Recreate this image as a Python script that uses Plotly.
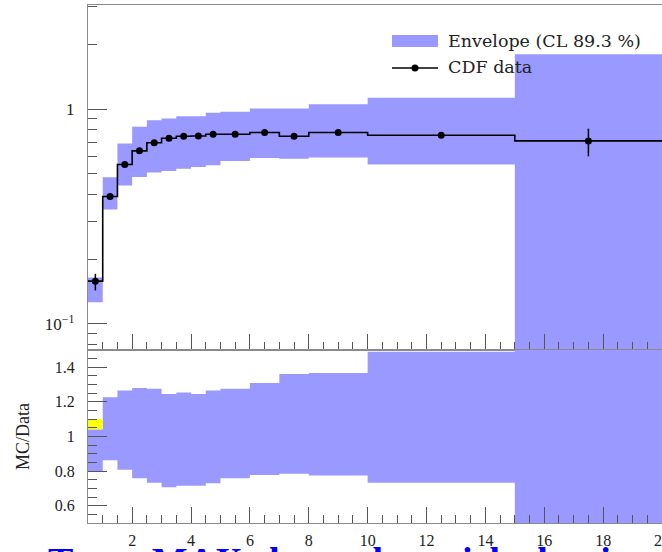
import plotly.graph_objects as go
from plotly.subplots import make_subplots

# ---- data ----
bin_edges = [0.5, 1, 1.5, 2, 2.5, 3, 3.5, 4, 4.5, 5, 6, 7, 8, 10, 15, 20]
data_vals = [0.158, 0.392, 0.552, 0.639, 0.697, 0.732, 0.748, 0.750, 0.764,
             0.764, 0.778, 0.748, 0.778, 0.756, 0.711]
data_err_up = [0.013, 0.006, 0.007, 0.007, 0.007, 0.007, 0.007, 0.007, 0.008,
               0.008, 0.008, 0.009, 0.010, 0.015, 0.100]
data_err_dn = [0.015, 0.006, 0.007, 0.007, 0.007, 0.007, 0.007, 0.007, 0.008,
               0.008, 0.008, 0.009, 0.010, 0.015, 0.108]
env_lo = [0.126, 0.341, 0.441, 0.483, 0.507, 0.515, 0.528, 0.537, 0.547,
          0.573, 0.592, 0.588, 0.595, 0.552, 0.01]
env_hi = [0.1645, 0.481, 0.691, 0.827, 0.888, 0.905, 0.927, 0.927, 0.961,
          0.971, 1.0075, 1.0075, 1.055, 1.13, 1.80]
ratio_lo = [0.80, 0.862, 0.808, 0.759, 0.732, 0.707, 0.716, 0.716, 0.730,
            0.759, 0.778, 0.784, 0.774, 0.732, 0.30]
ratio_hi = [1.04, 1.227, 1.266, 1.280, 1.276, 1.245, 1.255, 1.245, 1.266,
            1.276, 1.309, 1.361, 1.367, 1.49, 1.80]
yellow_lo = [1.043]
yellow_hi = [1.10]
yellow_bins = [(0.5, 1)]

x_ticks = [2, 4, 6, 8, 10, 12, 14, 16, 18, 20]
legend_env = "Envelope (CL 89.3 %)"
legend_data = "CDF data"
caption = "Trans MAX charged particle density"

ENV_COLOR = "#9999ff"
AX_COLOR = "#8a8a8a"
TICK_COLOR = "#555555"
FONT = "Liberation Serif"
LFONT = "DejaVu Serif"


def boxes(edges, lo, hi):
    xs, ys = [], []
    for i in range(len(lo)):
        x0, x1 = edges[i], edges[i + 1]
        xs += [x0, x1, x1, x0, x0, None]
        ys += [lo[i], lo[i], hi[i], hi[i], lo[i], None]
    return xs, ys


fig = make_subplots(rows=2, cols=1, shared_xaxes=False, vertical_spacing=0.0,
                    row_heights=[0.666, 0.334])

centers = [(bin_edges[i] + bin_edges[i + 1]) / 2 for i in range(len(data_vals))]

# main envelope
bx, by = boxes(bin_edges, env_lo, env_hi)
fig.add_trace(go.Scatter(x=bx, y=by, fill="toself", fillcolor=ENV_COLOR,
                         mode="none", hoverinfo="skip", showlegend=False), row=1, col=1)
# histogram step line
fig.add_trace(go.Scatter(x=bin_edges, y=data_vals + [data_vals[-1]], mode="lines",
                         line=dict(color="black", width=1.6, shape="hv"),
                         showlegend=False, hoverinfo="skip"), row=1, col=1)
# data points
fig.add_trace(go.Scatter(x=centers, y=data_vals, mode="markers",
                         marker=dict(color="black", size=7),
                         error_y=dict(type="data", array=data_err_up, arrayminus=data_err_dn,
                                      color="black", thickness=1.5, width=0),
                         showlegend=False), row=1, col=1)

# ratio envelope
rx, ry = boxes(bin_edges, ratio_lo, ratio_hi)
fig.add_trace(go.Scatter(x=rx, y=ry, fill="toself", fillcolor=ENV_COLOR,
                         mode="none", hoverinfo="skip", showlegend=False), row=2, col=1)
yx, yy = [], []
for (a, b), lo, hi in zip(yellow_bins, yellow_lo, yellow_hi):
    yx += [a, b, b, a, a, None]
    yy += [lo, lo, hi, hi, lo, None]
fig.add_trace(go.Scatter(x=yx, y=yy, fill="toself", fillcolor="#ffff00",
                         mode="none", hoverinfo="skip", showlegend=False), row=2, col=1)

common_x = dict(range=[0.5, 20], showline=True, linecolor=AX_COLOR, linewidth=1.2,
                mirror=True, ticks="inside", tickmode="array", tickvals=x_ticks,
                ticklen=16, tickcolor=TICK_COLOR, tickwidth=1,
                minor=dict(ticks="inside", dtick=0.5, tick0=0, ticklen=8,
                           tickcolor=TICK_COLOR, showgrid=False),
                showgrid=False, zeroline=False, automargin=False)

fig.update_xaxes(**common_x, showticklabels=False, row=1, col=1)
fig.update_xaxes(**common_x, showticklabels=True, ticklabelstandoff=3,
                 ticklabeloverflow="allow",
                 tickfont=dict(family=FONT, size=16, color="#222"), row=2, col=1)

fig.update_yaxes(type="log", range=[-1.122, 0.485], showline=True, linecolor=AX_COLOR,
                 linewidth=1.2, mirror=True, ticks="inside", tickmode="array",
                 tickvals=[0.1, 1], ticktext=["10<sup>\u22121</sup>", "1"],
                 ticklen=19, tickcolor=TICK_COLOR, ticklabelstandoff=9,
                 tickfont=dict(family=FONT, size=17, color="#222"),
                 minor=dict(ticks="inside", tickmode="array",
                            tickvals=[0.08, 0.09, 0.2, 0.3, 0.4, 0.5, 0.6, 0.7, 0.8, 0.9, 2, 3],
                            ticklen=9, tickcolor=TICK_COLOR, showgrid=False),
                 showgrid=False, zeroline=False, row=1, col=1)
fig.update_yaxes(range=[0.5, 1.5], showline=True, linecolor=AX_COLOR, linewidth=1.2,
                 mirror=True, ticks="inside", dtick=0.2, tick0=0, ticklen=19,
                 tickcolor=TICK_COLOR, ticklabelstandoff=9,
                 tickfont=dict(family=FONT, size=16, color="#222"),
                 minor=dict(ticks="inside", dtick=0.05, tick0=0, ticklen=9,
                            tickcolor=TICK_COLOR, showgrid=False),
                 title=dict(text="MC/Data", font=dict(family=FONT, size=18, color="#222"),
                            standoff=20),
                 showgrid=False, zeroline=False, row=2, col=1)

# ---- manual legend (paper coords: plot area x 88..662, y 5..523 px) ----
def px(x):
    return (x - 88) / 574.0


def py(y):
    return (523 - y) / 518.0


fig.add_shape(type="rect", xref="paper", yref="paper", x0=px(392), x1=px(438),
              y0=py(47), y1=py(35), fillcolor=ENV_COLOR, line=dict(width=0))
fig.add_shape(type="line", xref="paper", yref="paper", x0=px(392), x1=px(438),
              y0=py(68), y1=py(68), line=dict(color="black", width=1.6))
fig.add_shape(type="circle", xref="paper", yref="paper", x0=px(411.5), x1=px(418.5),
              y0=py(71.5), y1=py(64.5), fillcolor="black", line=dict(width=0))
fig.add_annotation(xref="paper", yref="paper", x=px(446), y=py(41), text=legend_env,
                   showarrow=False, xanchor="left", yanchor="middle",
                   font=dict(family=LFONT, size=17.5, color="#222"))
fig.add_annotation(xref="paper", yref="paper", x=px(446), y=py(67), text=legend_data,
                   showarrow=False, xanchor="left", yanchor="middle",
                   font=dict(family=LFONT, size=17.5, color="#222"))

# cut-off caption below the chart
fig.add_annotation(xref="paper", yref="paper", x=px(46), y=py(538), text="<b>" + caption + "</b>",
                   showarrow=False, xanchor="left", yanchor="top",
                   font=dict(family=FONT, size=38, color="#0000ff"))

fig.update_layout(width=662, height=552, margin=dict(l=88, r=0, t=5, b=29),
                  plot_bgcolor="white", paper_bgcolor="white", showlegend=False)

fig.write_html("out.html")
